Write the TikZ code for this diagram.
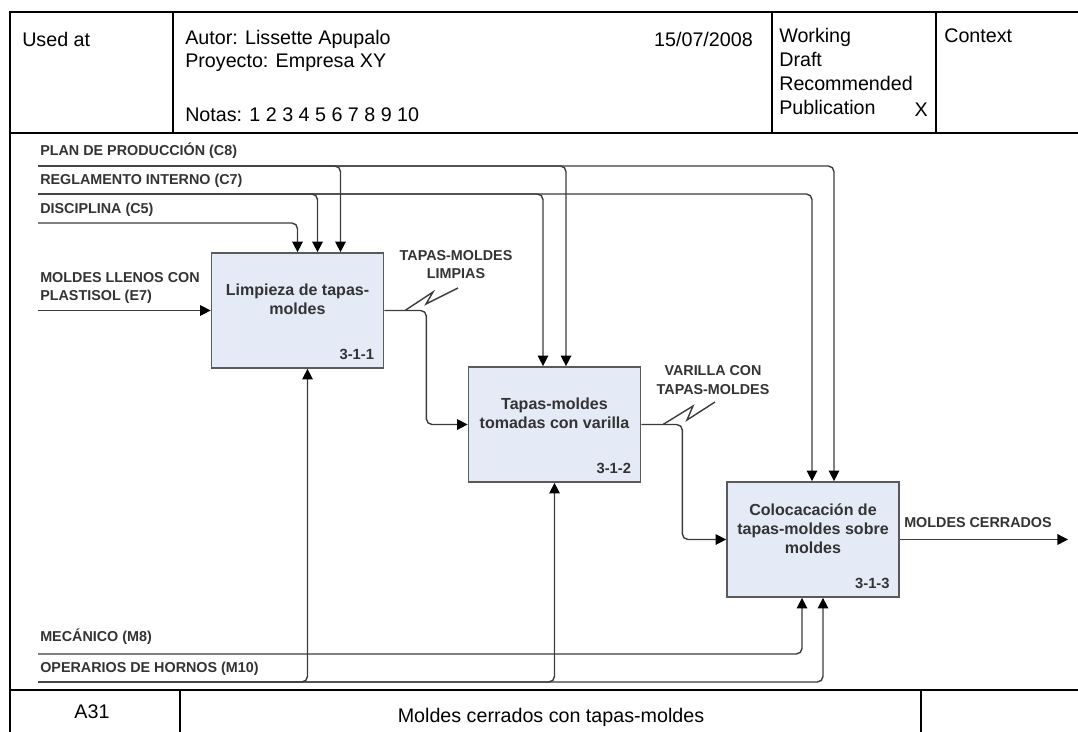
\documentclass[tikz,border=0pt]{standalone}
\usepackage{fontspec}
\setmainfont{Liberation Sans}
\usetikzlibrary{arrows.meta,calc}
\definecolor{boxfill}{HTML}{E4EBF7}
\definecolor{boxline}{HTML}{5A5A5A}
\definecolor{wiregray}{HTML}{3C3C3C}
\definecolor{labelgray}{HTML}{333333}
\tikzset{
  frame/.style = {black, line width=1.8pt},
  proc/.style = {draw=boxline, fill=boxfill, line width=1.2pt,
                 minimum width=4.3cm, minimum height=2.875cm, inner sep=0pt},
  ptitle/.style = {font=\fontsize{11.4}{13.6}\selectfont\bfseries,
                   text=labelgray, align=center, inner sep=0pt},
  pnum/.style = {font=\fontsize{10.5}{12}\selectfont\bfseries,
                 text=labelgray, inner sep=0pt},
  flow/.style = {draw=wiregray, line width=1pt, rounded corners=4pt,
                 -{Triangle[length=7.5pt,width=7.5pt,color=black]}},
  squig/.style = {draw=wiregray, line width=1pt},
  tag/.style = {font=\fontsize{10.2}{13}\selectfont\bfseries,
                text=labelgray, inner sep=0pt},
  htext/.style = {font=\fontsize{14}{17}\selectfont, inner sep=0pt}
}

\begin{document}
\begin{tikzpicture}[x=0.025cm, y=-0.025cm]
	\useasboundingbox (0,0) rectangle (1078,731);
	\clip (0,0) rectangle (1078,731);

	% Frame
	\draw[frame] (10,12) rectangle (1120,770);
	\draw[frame] (10,133) -- (1120,133);
	\draw[frame] (173,12) -- (173,133);
	\draw[frame] (772,12) -- (772,133);
	\draw[frame] (936,12) -- (936,133);
	\draw[frame] (10,690) -- (1120,690);
	\draw[frame] (180,690) -- (180,770);
	\draw[frame] (921,690) -- (921,770);

	% Header
	\node[htext, anchor=west] (used) at (22,39) {Used at};
	\node[htext, anchor=west] (autor) at (185,39) {Autor: Lissette Apupalo};
	\node[htext, anchor=west] (proy) at (185,63) {Proyecto: Empresa XY};
	\node[htext, anchor=west] (notas) at (185,115) {Notas: 1 2 3 4 5 6 7 8 9 10};
	\node[htext, anchor=east] (fecha) at (753,39) {15/07/2008};
	\node[htext, anchor=north west, align=left] (estado) at (779,28)
		{Working\\Draft\\Recommended\\Publication};
	\node[htext, anchor=east] (marca) at (928,110) {X};
	\node[htext, anchor=west] (ctx) at (944,36) {Context};

	% Activities
	\node[proc] (lim) at (297.5,310.5) {};
	\node[proc] (tap) at (554.5,424.5) {};
	\node[proc] (col) at (813,539.5) {};
	\node[ptitle] (limt) at ($(lim.center)+(0,-11)$) {Limpieza de tapas-\\moldes};
	\node[ptitle] (tapt) at ($(tap.center)+(0,-11)$) {Tapas-moldes\\tomadas con varilla};
	\node[ptitle] (colt) at ($(col.center)+(0,-11)$) {Colocacación de\\tapas-moldes sobre\\moldes};
	\node[pnum, anchor=south east] (limn) at ($(lim.south east)+(-10,-9)$) {3-1-1};
	\node[pnum, anchor=south east] (tapn) at ($(tap.south east)+(-10,-9)$) {3-1-2};
	\node[pnum, anchor=south east] (coln) at ($(col.south east)+(-10,-9)$) {3-1-3};

	% Controls
	\coordinate (c8) at (38,166);
	\coordinate (c7) at (38,194);
	\coordinate (c5) at (38,223);
	\draw[flow] (c8) -| ($(lim.north)+(43,0)$);
	\draw[flow] (c8) -| ($(tap.north)+(11.5,0)$);
	\draw[flow] (c8) -| ($(col.north)+(21,0)$);
	\draw[flow] (c7) -| ($(lim.north)+(20,0)$);
	\draw[flow] (c7) -| ($(tap.north)+(-11.5,0)$);
	\draw[flow] (c7) -| ($(col.north)+(-1,0)$);
	\draw[flow] (c5) -| (lim.north);
	\node[tag, anchor=west] (lc8) at (40,151) {PLAN DE PRODUCCIÓN (C8)};
	\node[tag, anchor=west] (lc7) at (40,181) {REGLAMENTO INTERNO (C7)};
	\node[tag, anchor=west] (lc5) at (40,210) {DISCIPLINA (C5)};

	% Input
	\coordinate (e7) at (38,310.5);
	\draw[flow] (e7) -- (lim.west);
	\node[tag, anchor=west, align=left] (le7) at (40,288) {MOLDES LLENOS CON\\PLASTISOL (E7)};

	% Outputs
	\draw[flow] (lim.east) -- ++(42,0) |- (tap.west);
	\draw[flow] (tap.east) -- ++(41,0) |- (col.west);
	\coordinate (out) at (1068,539.5);
	\draw[flow] (col.east) -- (out);
	\draw[squig] (405,310.5) -- (433,292) -- (426,304) -- (458,288);
	\draw[squig] (663,424.5) -- (693,406) -- (687,420) -- (715,402);
	\node[tag, align=center] (lo1) at (456,264.5) {TAPAS-MOLDES\\LIMPIAS};
	\node[tag, align=center] (lo2) at (713,380) {VARILLA CON\\TAPAS-MOLDES};
	\node[tag] (lo3) at (978,523) {MOLDES CERRADOS};

	% Mechanisms
	\coordinate (m8) at (38,654);
	\coordinate (m10) at (38,682);
	\draw[flow] (m8) -| ($(col.south)+(-11,0)$);
	\draw[flow] (m10) -| ($(lim.south)+(10,0)$);
	\draw[flow] (m10) -| (tap.south);
	\draw[flow] (m10) -| ($(col.south)+(10,0)$);
	\node[tag, anchor=west] (lm8) at (40,637) {MECÁNICO (M8)};
	\node[tag, anchor=west] (lm10) at (40,669) {OPERARIOS DE HORNOS (M10)};

	% Footer
	\node[htext] (nodo) at (92,712) {A31};
	\node[htext] (titulo) at (551,717) {Moldes cerrados con tapas-moldes};
\end{tikzpicture}
\end{document}
